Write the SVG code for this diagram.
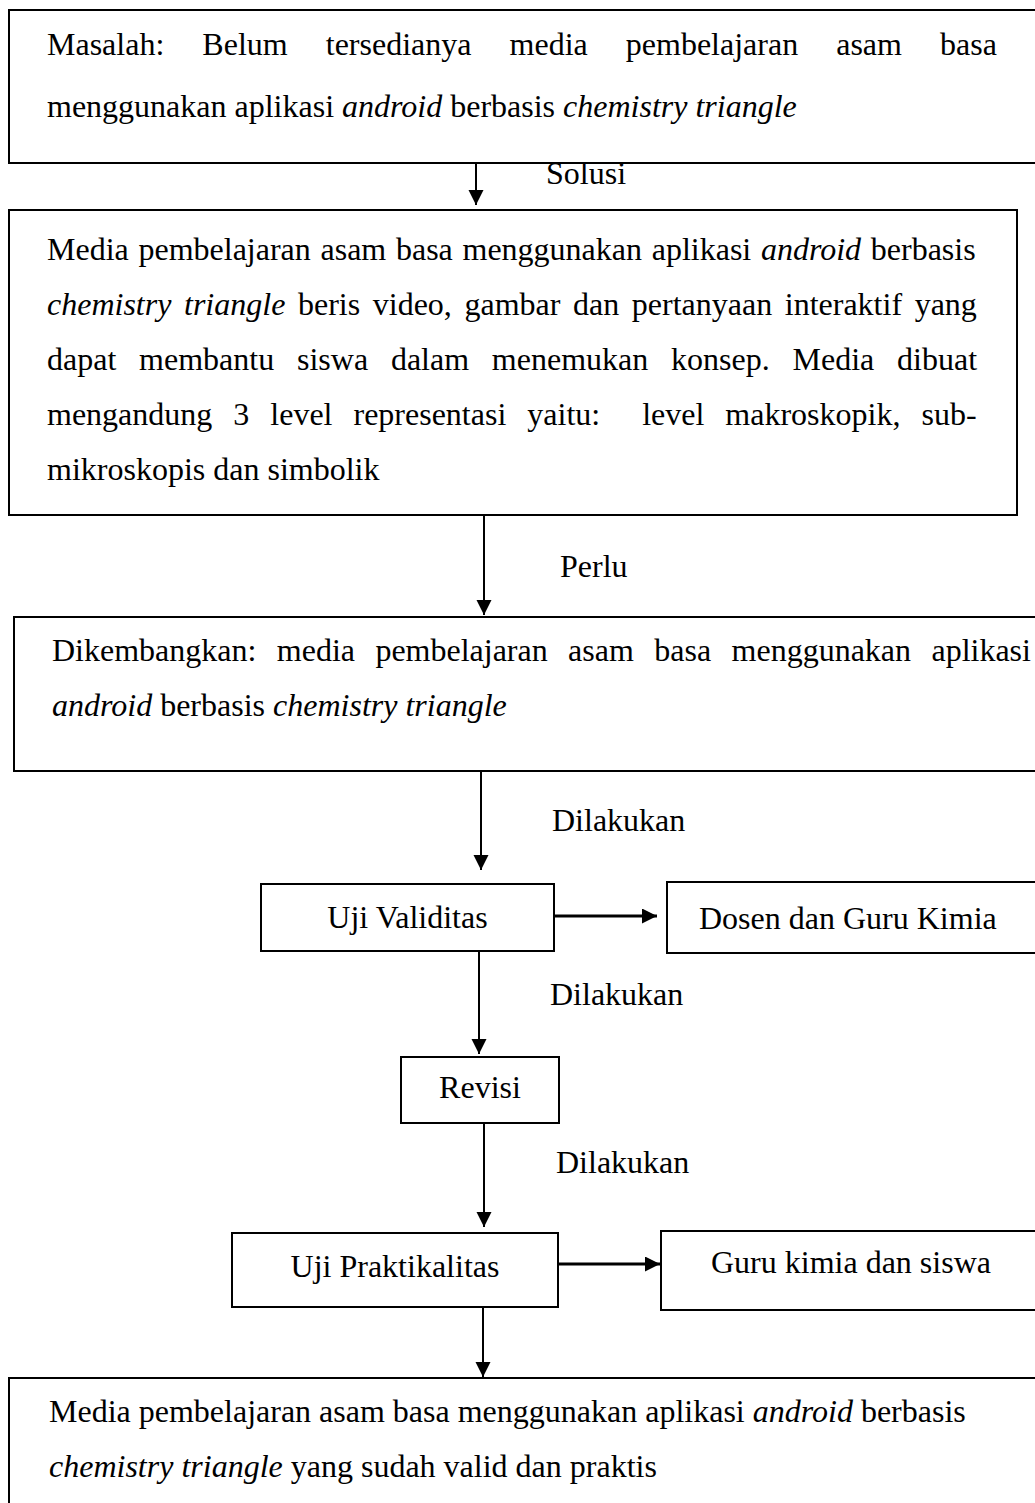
<svg xmlns="http://www.w3.org/2000/svg" width="1035" height="1503" viewBox="0 0 1035 1503">
<defs>
<style>
text{font-family:"Liberation Serif","Times New Roman",serif;font-size:32px;fill:#000}
.it{font-style:italic}
.box{fill:#fff;stroke:#000;stroke-width:2}
.ln{stroke:#000;stroke-width:2;fill:none}
.lnh{stroke:#000;stroke-width:3;fill:none}
</style>
<marker id="ah" markerUnits="userSpaceOnUse" markerWidth="16" markerHeight="16" refX="15" refY="7.5" orient="auto">
<path d="M0,0 L15,7.5 L0,15 Z" fill="#000"/>
</marker>
</defs>
<rect width="1035" height="1503" fill="#fff"/>
<g id="connectors">
<line class="ln" x1="476" y1="163" x2="476" y2="205" marker-end="url(#ah)"/>
<text x="546" y="184">Solusi</text>
<line class="ln" x1="484" y1="515" x2="484" y2="615" marker-end="url(#ah)"/>
<text x="560" y="577">Perlu</text>
<line class="ln" x1="481" y1="771" x2="481" y2="870" marker-end="url(#ah)"/>
<text x="552" y="831">Dilakukan</text>
<line class="lnh" x1="554" y1="916" x2="657" y2="916" marker-end="url(#ah)"/>
<line class="ln" x1="479" y1="951" x2="479" y2="1054" marker-end="url(#ah)"/>
<text x="550" y="1005">Dilakukan</text>
<line class="ln" x1="484" y1="1123" x2="484" y2="1227" marker-end="url(#ah)"/>
<text x="556" y="1173">Dilakukan</text>
<line class="lnh" x1="559" y1="1264" x2="660" y2="1264" marker-end="url(#ah)"/>
<line class="ln" x1="483" y1="1307" x2="483" y2="1377" marker-end="url(#ah)"/>
</g>
<g id="masalah">
<rect class="box" x="9" y="10" width="1040" height="153"/>
<text x="47" y="55" style="word-spacing:30.07px">Masalah: Belum tersedianya media pembelajaran asam basa</text>
<text x="47" y="117">menggunakan aplikasi <tspan class="it">android</tspan> berbasis <tspan class="it">chemistry triangle</tspan></text>
</g>
<g id="solusi-media">
<rect class="box" x="9" y="210" width="1008" height="305"/>
<text x="47" y="260" style="word-spacing:1.7px">Media pembelajaran asam basa menggunakan aplikasi <tspan class="it">android</tspan> berbasis</text>
<text x="47" y="315" style="word-spacing:4.6px"><tspan class="it">chemistry triangle</tspan> beris video, gambar dan pertanyaan interaktif yang</text>
<text x="47" y="370" style="word-spacing:14.8px">dapat membantu siswa dalam menemukan konsep. Media dibuat</text>
<text x="47" y="425" xml:space="preserve" style="word-spacing:13px">mengandung 3 level representasi yaitu:  level makroskopik, sub-</text>
<text x="47" y="480">mikroskopis dan simbolik</text>
</g>
<g id="dikembangkan">
<rect class="box" x="14" y="617" width="1040" height="154"/>
<text x="52" y="661" style="word-spacing:12.4px">Dikembangkan: media pembelajaran asam basa menggunakan aplikasi</text>
<text x="52" y="716"><tspan class="it">android</tspan> berbasis <tspan class="it">chemistry triangle</tspan></text>
</g>
<g id="uji-validitas">
<rect class="box" x="261" y="884" width="293" height="67"/>
<text x="407.5" y="928" text-anchor="middle">Uji Validitas</text>
</g>
<g id="dosen">
<rect class="box" x="667" y="882" width="400" height="71"/>
<text x="699" y="929">Dosen dan Guru Kimia</text>
</g>
<g id="revisi">
<rect class="box" x="401" y="1057" width="158" height="66"/>
<text x="480" y="1098" text-anchor="middle">Revisi</text>
</g>
<g id="uji-praktikalitas">
<rect class="box" x="232" y="1233" width="326" height="74"/>
<text x="395" y="1277" text-anchor="middle">Uji Praktikalitas</text>
</g>
<g id="guru">
<rect class="box" x="661" y="1231" width="400" height="79"/>
<text x="711" y="1273">Guru kimia dan siswa</text>
</g>
<g id="hasil">
<rect class="box" x="9" y="1378" width="1040" height="140"/>
<text x="49" y="1422">Media pembelajaran asam basa menggunakan aplikasi <tspan class="it">android</tspan> berbasis</text>
<text x="49" y="1477"><tspan class="it">chemistry triangle</tspan> yang sudah valid dan praktis</text>
</g>
</svg>
